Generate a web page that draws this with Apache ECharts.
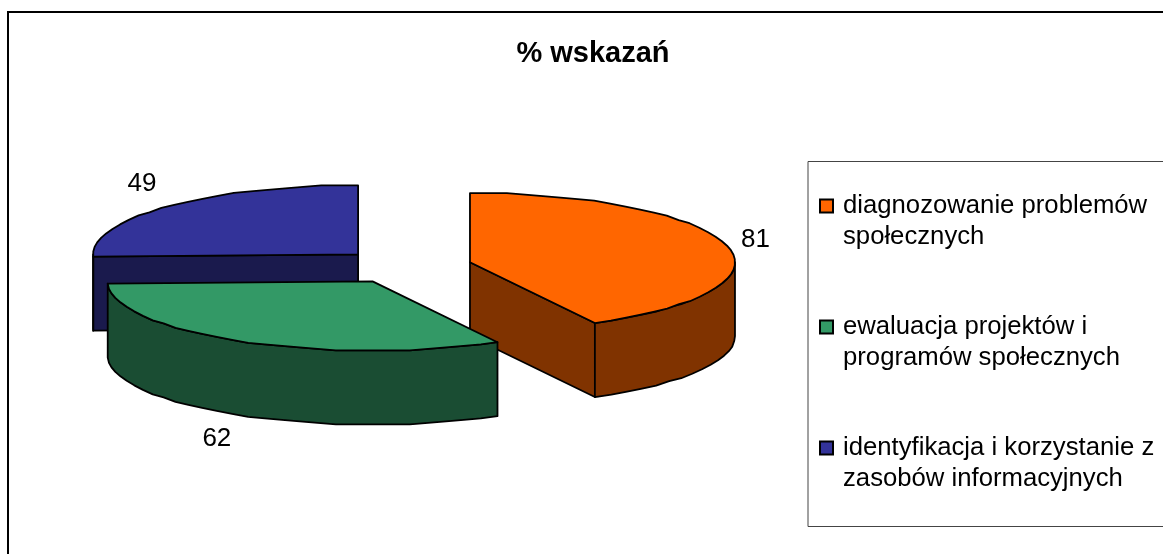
<!DOCTYPE html>
<html>
<head>
    <meta charset="utf-8">
    <title>% wskazań</title>
    <style>html, body { margin: 0; background: #fff; }</style>
</head>
<body>
    <div id="main" style="width:1163px;height:554px"></div>
    <script src="https://cdn.jsdelivr.net/npm/echarts@6/dist/echarts.min.js"></script>
    <script type="text/javascript">
        const TITLE = '% wskazań';
        const CATEGORIES = ['diagnozowanie problemów\nspołecznych', 'ewaluacja projektów i\nprogramów społecznych', 'identyfikacja i korzystanie z\nzasobów informacyjnych'];
        const VALUES = [81, 62, 49];
        const TOP_COLORS = ['#FF6600', '#339966', '#333399'];
        const SIDE_COLORS = ['#803300', '#1A4D33', '#1A1A4D'];

        const FONT = '"Liberation Sans", Arial, sans-serif';
        const CX = 405.7, CY = 266.4, RX = 265, RY = 69, DEPTH = 74, EXPLODE = 0.25;
        const SERIES_Z = [2, 3, 1]; // zielony ma przykryc oba pozostale
        const LABEL_SHIFT = [[-5, -3], [-6, 16], [-1, -16]];
        const ARC_STEP = 4, ARC_GRID = 1.5; // lekko schodkowe luki jak w oryginale

        const TOTAL = VALUES.reduce((a, b) => a + b, 0);

        function ellipsePoint(ox, oy, deg, f) {
            const rad = deg * Math.PI / 180;
            return [ox + RX * f * Math.sin(rad), oy - RY * f * Math.cos(rad)];
        }

        function arc(ox, oy, from, to) {
            let pts = [];
            const n = Math.max(1, Math.round((to - from) / ARC_STEP));
            for (let i = 0; i <= n; i++) {
                let p = ellipsePoint(ox, oy, from + (to - from) * i / n, 1);
                if (i > 0 && i < n) {
                    p[1] = oy + Math.round((p[1] - oy) / ARC_GRID) * ARC_GRID;
                }
                pts.push(p);
            }
            return pts;
        }

        function polygon(points, fill, z2) {
            return {
                type: 'polygon',
                z2: z2,
                shape: {points: points},
                style: {fill: fill, stroke: '#000', lineWidth: 1.8, lineJoin: 'round'}
            };
        }

        function down(points) {
            return points.map(p => [p[0], p[1] + DEPTH]).reverse();
        }

        function renderSlice(index, value) {
            let before = 0;
            for (let i = 0; i < index; i++) {
                before += VALUES[i];
            }
            const start = before / TOTAL * 360;
            const end = start + value / TOTAL * 360;
            const mid = (start + end) / 2;
            const origin = ellipsePoint(CX, CY, mid, EXPLODE);
            const ox = origin[0], oy = origin[1];
            let children = [];

            // sciany boczne
            if (start > 180 && start < 360) {
                const edge = [origin, ellipsePoint(ox, oy, start, 1)];
                children.push(polygon(edge.concat(down(edge)), SIDE_COLORS[index], 1));
            }
            if (end > 0 && end < 180) {
                const edge = [origin, ellipsePoint(ox, oy, end, 1)];
                children.push(polygon(edge.concat(down(edge)), SIDE_COLORS[index], 1));
            }
            const wallFrom = Math.max(start, 90), wallTo = Math.min(end, 270);
            if (wallFrom < wallTo) {
                const wall = arc(ox, oy, wallFrom, wallTo);
                children.push(polygon(wall.concat(down(wall)), SIDE_COLORS[index], 2));
            }

            // wierzch
            children.push(polygon([origin].concat(arc(ox, oy, start, end)), TOP_COLORS[index], 3));

            // etykieta
            const lab = ellipsePoint(ox, oy, mid, 1.13);
            const low = mid > 90 && mid < 270 ? DEPTH : 0;
            children.push({
                type: 'text',
                z2: 4,
                style: {
                    x: lab[0] + LABEL_SHIFT[index][0],
                    y: lab[1] + low + LABEL_SHIFT[index][1],
                    text: String(value),
                    fill: '#000',
                    font: '26px ' + FONT,
                    align: 'center',
                    verticalAlign: 'middle'
                }
            });
            return {type: 'group', children: children};
        }

        function legendGraphic() {
            let items = [{
                type: 'rect',
                shape: {x: 808, y: 161.5, width: 420, height: 365},
                style: {fill: '#fff', stroke: '#444', lineWidth: 1}
            }];
            CATEGORIES.forEach((name, i) => {
                const y = 206 + i * 121;
                items.push({
                    type: 'rect',
                    shape: {x: 820, y: y - 6.5, width: 13, height: 13},
                    style: {fill: TOP_COLORS[i], stroke: '#000', lineWidth: 2}
                });
                items.push({
                    type: 'text',
                    style: {
                        x: 843,
                        y: y - 15.5,
                        text: name,
                        fill: '#000',
                        font: '25.7px ' + FONT,
                        lineHeight: 31,
                        align: 'left',
                        verticalAlign: 'top'
                    }
                });
            });
            return items;
        }

        let myChart = echarts.init(document.getElementById('main'));

        myChart.setOption({
            animation: false,
            backgroundColor: '#fff',
            title: {
                text: TITLE,
                left: 588,
                top: 34,
                textAlign: 'center',
                textStyle: {fontFamily: FONT, fontSize: 29, fontWeight: 'bold', color: '#000'}
            },
            graphic: [{
                type: 'rect',
                shape: {x: 8, y: 12, width: 1300, height: 700},
                style: {fill: 'none', stroke: '#000', lineWidth: 2}
            }].concat(legendGraphic()),
            series: VALUES.map((value, i) => ({
                type: 'custom',
                name: CATEGORIES[i],
                coordinateSystem: 'none',
                silent: true,
                z: SERIES_Z[i],
                data: [[value]],
                renderItem: function (params, api) {
                    return renderSlice(i, api.value(0));
                }
            }))
        });
    </script>
</body>
</html>
